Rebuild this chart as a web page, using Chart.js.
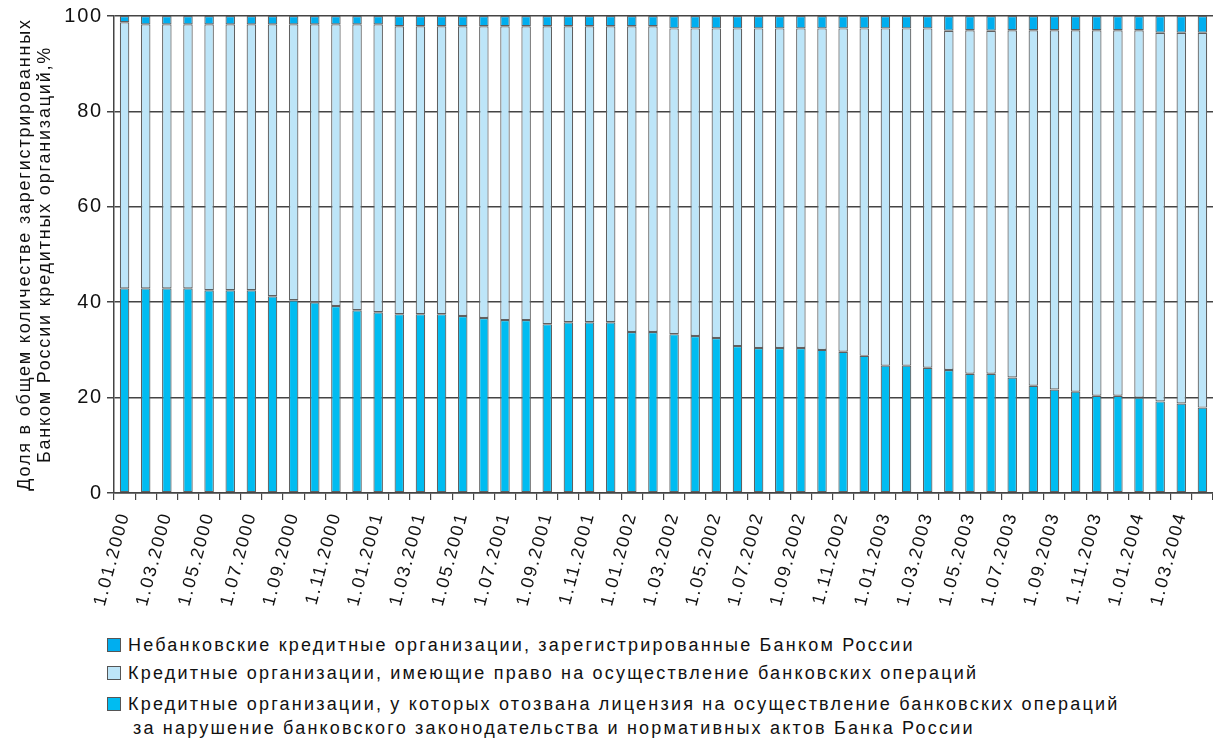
<!DOCTYPE html>
<html>
<head>
<meta charset="utf-8">
<script src="https://cdn.jsdelivr.net/npm/chart.js@4.4.1/dist/chart.umd.min.js"></script>
<style>
  html, body { margin: 0; padding: 0; background: #fff; }
  #wrap { position: relative; width: 1213px; height: 751px; overflow: hidden; background: #fff; }
  #chartBox { position: absolute; left: 0; top: 0; width: 1213px; height: 630px; }
  #legend { position: absolute; left: 107px; top: 634px; font-family: "Liberation Sans", Arial, sans-serif;
            font-size: 18px; letter-spacing: 2.2px; color: #111; }
  .item { display: flex; align-items: flex-start; line-height: 22px; }
  .box { width: 14px; height: 14px; border: 1px solid #555; margin-top: 4px; margin-right: 7px; flex: none; box-sizing: border-box; }
  .item2 { margin-top: 6px; }
  .item3 { margin-top: 8px; line-height: 24px; }
  .item3 .box { margin-top: 5px; }
  .sub { padding-left: 5px; }
</style>
</head>
<body>
<div id="wrap">
  <div id="chartBox"><canvas id="c"></canvas></div>
  <div id="legend"></div>
</div>
<script>
const categories = [
  "1.01.2000","1.02.2000","1.03.2000","1.04.2000","1.05.2000","1.06.2000","1.07.2000","1.08.2000","1.09.2000","1.10.2000","1.11.2000","1.12.2000",
  "1.01.2001","1.02.2001","1.03.2001","1.04.2001","1.05.2001","1.06.2001","1.07.2001","1.08.2001","1.09.2001","1.10.2001","1.11.2001","1.12.2001",
  "1.01.2002","1.02.2002","1.03.2002","1.04.2002","1.05.2002","1.06.2002","1.07.2002","1.08.2002","1.09.2002","1.10.2002","1.11.2002","1.12.2002",
  "1.01.2003","1.02.2003","1.03.2003","1.04.2003","1.05.2003","1.06.2003","1.07.2003","1.08.2003","1.09.2003","1.10.2003","1.11.2003","1.12.2003",
  "1.01.2004","1.02.2004","1.03.2004","1.04.2004"
];

// Кредитные организации, у которых отозвана лицензия (нижний сегмент)
const revokedShare = [
  42.9, 42.9, 42.9, 42.9, 42.5, 42.5, 42.5, 41.25, 40.4, 40.0, 39.2, 38.3,
  37.9, 37.5, 37.5, 37.5, 37.1, 36.7, 36.25, 36.25, 35.4, 35.8, 35.8, 35.8,
  33.75, 33.75, 33.3, 32.9, 32.5, 30.8, 30.4, 30.4, 30.4, 30.0, 29.6, 28.75,
  26.7, 26.7, 26.25, 25.8, 25.0, 25.0, 24.2, 22.5, 21.7, 21.25, 20.4, 20.4,
  20.0, 19.2, 18.75, 17.9
];

// Кредитные организации, имеющие право на осуществление банковских операций (средний сегмент)
const activeShare = [
  55.8, 55.35, 55.35, 55.35, 55.75, 55.75, 55.75, 57.0, 57.85, 58.25, 59.05, 59.95,
  60.35, 60.35, 60.35, 60.35, 60.75, 61.15, 61.6, 61.6, 62.45, 62.05, 62.05, 62.05,
  64.1, 64.1, 64.1, 64.5, 64.9, 66.6, 67.0, 67.0, 67.0, 67.4, 67.8, 68.65,
  70.7, 70.7, 71.15, 71.1, 72.0, 71.9, 72.8, 74.5, 75.3, 75.75, 76.6, 76.6,
  77.0, 77.3, 77.75, 78.6
];

// Небанковские кредитные организации (верхний сегмент)
const nonBankShare = [
  1.3, 1.75, 1.75, 1.75, 1.75, 1.75, 1.75, 1.75, 1.75, 1.75, 1.75, 1.75,
  1.75, 2.15, 2.15, 2.15, 2.15, 2.15, 2.15, 2.15, 2.15, 2.15, 2.15, 2.15,
  2.15, 2.15, 2.6, 2.6, 2.6, 2.6, 2.6, 2.6, 2.6, 2.6, 2.6, 2.6,
  2.6, 2.6, 2.6, 3.1, 3.0, 3.1, 3.0, 3.0, 3.0, 3.0, 3.0, 3.0,
  3.0, 3.5, 3.5, 3.5
];

const yTickValues = [0, 20, 40, 60, 80, 100];

const seriesNames = {
  nonBank: "Небанковские кредитные организации, зарегистрированные Банком России",
  active: "Кредитные организации, имеющие право на осуществление банковских операций",
  revoked: ["Кредитные организации, у которых отозвана лицензия на осуществление банковских операций",
            "за нарушение банковского законодательства и нормативных актов Банка России"]
};

const yTitle = ["Доля в общем количестве зарегистрированных", "Банком России кредитных организаций,%"];

const COLORS = { nonBank: "#00AEEF", active: "#BDE5F8", revoked: "#00BCF1" };
const FONT = "'Liberation Sans', Arial, sans-serif";

const spacingPlugin = {
  id: "spacing",
  beforeDraw(chart) { chart.ctx.letterSpacing = "1.8px"; },
  afterDraw(chart) { chart.ctx.letterSpacing = "0px"; }
};

const barCommon = {
  borderColor: "#606060",
  borderWidth: 1.2,
  borderSkipped: false,
  barPercentage: 0.45,
  categoryPercentage: 1.0
};

new Chart(document.getElementById("c"), {
  type: "bar",
  data: {
    labels: categories,
    datasets: [
      Object.assign({ label: seriesNames.revoked.join(" "), data: revokedShare, backgroundColor: COLORS.revoked }, barCommon),
      Object.assign({ label: seriesNames.active, data: activeShare, backgroundColor: COLORS.active }, barCommon),
      Object.assign({ label: seriesNames.nonBank, data: nonBankShare, backgroundColor: COLORS.nonBank }, barCommon)
    ]
  },
  options: {
    responsive: true,
    maintainAspectRatio: false,
    animation: false,
    layout: { padding: { top: 14, right: 0, left: 0, bottom: 0 } },
    plugins: { legend: { display: false }, tooltip: { enabled: false } },
    scales: {
      x: {
        stacked: true,
        offset: true,
        grid: { offset: true, drawOnChartArea: false, drawTicks: true, tickLength: 7, color: "#444", lineWidth: 1.2 },
        border: { display: true, color: "#444", width: 1.5 },
        ticks: {
          autoSkip: false, maxRotation: 75, minRotation: 75, padding: 10,
          color: "#111", font: { family: FONT, size: 18 },
          callback: (v, i) => (i % 2 === 0 ? categories[i] : "")
        },
        afterFit: (s) => { s.height = 137; s.paddingLeft = 0; s.paddingRight = 0; }
      },
      y: {
        stacked: true,
        min: 0, max: 100,
        afterBuildTicks: (s) => { s.ticks = yTickValues.map(v => ({ value: v })); },
        grid: { color: "#444", lineWidth: 1.5, tickLength: 7, drawTicks: true },
        border: { display: true, color: "#444", width: 1.5 },
        ticks: { padding: 4, color: "#111", font: { family: FONT, size: 20 } },
        title: {
          display: true, text: yTitle, color: "#111",
          font: { family: FONT, size: 18, lineHeight: 1.1 },
          padding: { top: 15, bottom: 0 }
        },
        afterFit: (s) => { s.width = 114; }
      }
    }
  },
  plugins: [spacingPlugin]
});

// HTML legend
const legend = document.getElementById("legend");
function addItem(cls, color, lines) {
  const row = document.createElement("div");
  row.className = "item " + cls;
  const box = document.createElement("div");
  box.className = "box";
  box.style.background = color;
  const txt = document.createElement("div");
  lines.forEach((t, k) => {
    const d = document.createElement("div");
    d.textContent = t;
    if (k > 0) d.className = "sub";
    txt.appendChild(d);
  });
  row.appendChild(box);
  row.appendChild(txt);
  legend.appendChild(row);
}
addItem("item1", COLORS.nonBank, [seriesNames.nonBank]);
addItem("item2", COLORS.active, [seriesNames.active]);
addItem("item3", COLORS.revoked, seriesNames.revoked);
</script>
</body>
</html>
